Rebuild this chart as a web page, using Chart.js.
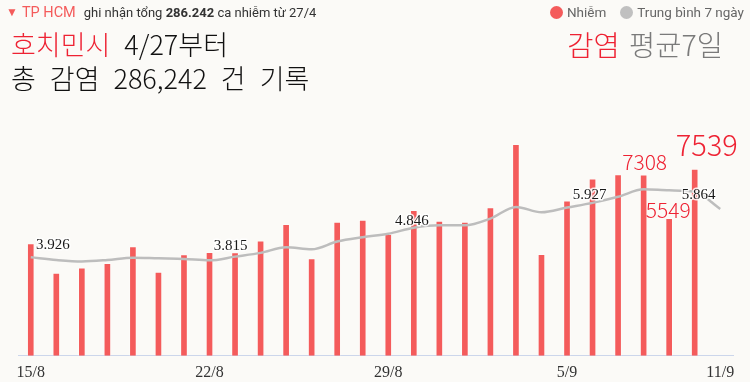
<!DOCTYPE html>
<html>
<head>
<meta charset="utf-8">
<script src="https://cdn.jsdelivr.net/npm/chart.js@4/dist/chart.umd.min.js"></script>
<style>
html,body{margin:0;padding:0;background:#fbfaf7;}
#wrap{position:relative;width:750px;height:382px;overflow:hidden;background:#fbfaf7;font-family:Roboto,"Liberation Sans",Arial,sans-serif;}
#chart{position:absolute;left:0;top:0;}
.hdr{position:absolute;left:6px;top:3px;font-size:13px;white-space:nowrap;color:#333;line-height:18px;}
.hdr .tri{color:#f45b5b;font-size:12px;vertical-align:1px;}
.hdr .city{color:#f45b5b;font-size:14.5px;margin-left:4px;margin-right:8px;}
.legend{position:absolute;right:6px;top:3px;font-size:13.5px;white-space:nowrap;color:#666;line-height:18px;}
.legend .dot{display:inline-block;width:13px;height:13px;border-radius:50%;vertical-align:-2px;margin-right:4px;}
.legend .item{margin-left:14px;}
.ko{position:absolute;font-family:"Noto Sans CJK KR",sans-serif;font-weight:300;white-space:nowrap;color:#111;line-height:1;}
.red{color:#ee2233;}
.grey{color:#7a7a7a;}
</style>
</head>
<body>
<div id="wrap">
  <canvas id="chart" width="750" height="391"></canvas>
  <div class="hdr"><span class="tri">&#9660;</span><span class="city">TP HCM</span>ghi nhận tổng <b>286.242</b> ca nhiễm từ 27/4</div>
  <div class="legend"><span class="item"><span class="dot" style="background:#f45b5b"></span>Nhiễm</span><span class="item"><span class="dot" style="background:#c0c0c0"></span>Trung bình 7 ngày</span></div>
  <div class="ko" style="left:11px;top:30px;font-size:27px;word-spacing:8px;"><span class="red">호치민시</span> 4/27부터</div>
  <div class="ko" style="left:11px;top:64px;font-size:27px;word-spacing:8px;">총 감염 286,242 건 기록</div>
  <div class="ko" style="right:27px;top:30px;font-size:28.5px;word-spacing:3px;"><span class="red">감염</span> <span class="grey">평균7일</span></div>
</div>
<script>
// ---- data ----
const dates = ['15/8','16/8','17/8','18/8','19/8','20/8','21/8','22/8','23/8','24/8','25/8','26/8','27/8','28/8','29/8','30/8','31/8','1/9','2/9','3/9','4/9','5/9','6/9','7/9','8/9','9/9','10/9','11/9'];
const cases = [4536, 3341, 3558, 3733, 4413, 3382, 4087, 4181, 4169, 4646, 5310, 3924, 5404, 5485, 4902, 5880, 5444, 5404, 5990, 8542, 4100, 6260, 7144, 7322, 7308, 5549, 7539, null];
const avg7 = [3977, 3871, 3814, 3871, 3965, 3937, 3912, 3855, 4006, 4157, 4385, 4303, 4617, 4792, 4931, 5175, 5269, 5269, 5542, 6015, 5799, 5990, 6178, 6422, 6724, 6683, 6626, 5933];
const tickLabels = ['15/8','22/8','29/8','5/9','11/9'];
const avgLabelIdx = [0, 7, 15, 22, 26];
const avgLabelText = ['3.926', '3.815', '4.846', '5.927', '5.864'];
const caseLabelIdx = [24, 25, 26];

// ---- label styling (offsets/sizes only) ----
const avgLabelStyle = [
  {dx: 22, dy: -8}, {dx: 21, dy: -10}, {dx: -2, dy: -3}, {dx: -3, dy: -4}, {dx: 4, dy: 7}
];
const caseLabelStyle = [
  {dx: 1, dy: -5, size: 21}, {dx: -1, dy: 0, size: 21}, {dx: 12, dy: -13, size: 29}
];

const labelPlugin = {
  id: 'labelPlugin',
  afterDatasetsDraw(chart) {
    const ctx = chart.ctx;
    const lineMeta = chart.getDatasetMeta(1);
    const barMeta = chart.getDatasetMeta(0);
    ctx.save();
    ctx.textAlign = 'center';
    ctx.textBaseline = 'alphabetic';
    ctx.font = '15px "Liberation Serif", serif';
    ctx.lineJoin = 'round';
    avgLabelIdx.forEach((i, k) => {
      const p = lineMeta.data[i];
      const s = avgLabelStyle[k];
      const x = p.x + s.dx, y = p.y + s.dy;
      ctx.strokeStyle = 'rgba(255,255,255,0.85)';
      ctx.lineWidth = 3;
      ctx.strokeText(avgLabelText[k], x, y);
      ctx.fillStyle = '#1a1a1a';
      ctx.fillText(avgLabelText[k], x, y);
    });
    caseLabelIdx.forEach((i, k) => {
      const b = barMeta.data[i];
      const s = caseLabelStyle[k];
      ctx.font = '300 ' + s.size + 'px "Noto Sans CJK KR", sans-serif';
      ctx.fillStyle = '#ee2233';
      ctx.fillText(String(cases[i]), b.x + s.dx, b.y + s.dy);
    });
    ctx.restore();
  }
};

new Chart(document.getElementById('chart'), {
  data: {
    labels: dates,
    datasets: [
      {
        type: 'bar',
        label: 'Nhiễm',
        data: cases,
        backgroundColor: '#f45b5b',
        borderColor: 'rgba(255,255,255,0.35)',
        borderWidth: 1,
        barThickness: 7,
        order: 2
      },
      {
        type: 'line',
        label: 'Trung bình 7 ngày',
        data: avg7,
        borderColor: '#bdbdbd',
        borderWidth: 2.5,
        pointRadius: 0,
        tension: 0.4,
        cubicInterpolationMode: 'monotone',
        fill: false,
        order: 1
      }
    ]
  },
  options: {
    responsive: false,
    animation: false,
    layout: {padding: {left: 18, right: 17, top: 133, bottom: 2}},
    plugins: {legend: {display: false}, tooltip: {enabled: false}},
    scales: {
      x: {
        offset: true,
        grid: {display: false, drawTicks: false},
        border: {display: true, color: '#ccd6eb', width: 1},
        ticks: {
          autoSkip: false,
          maxRotation: 0,
          padding: 7,
          color: '#333',
          font: {family: '"Liberation Serif", serif', size: 16},
          callback: function(v, i) { const l = this.getLabelForValue(v); return tickLabels.includes(l) ? l : ''; }
        }
      },
      y: {display: false, min: 0, max: 9000}
    }
  },
  plugins: [labelPlugin]
});
</script>
</body>
</html>
